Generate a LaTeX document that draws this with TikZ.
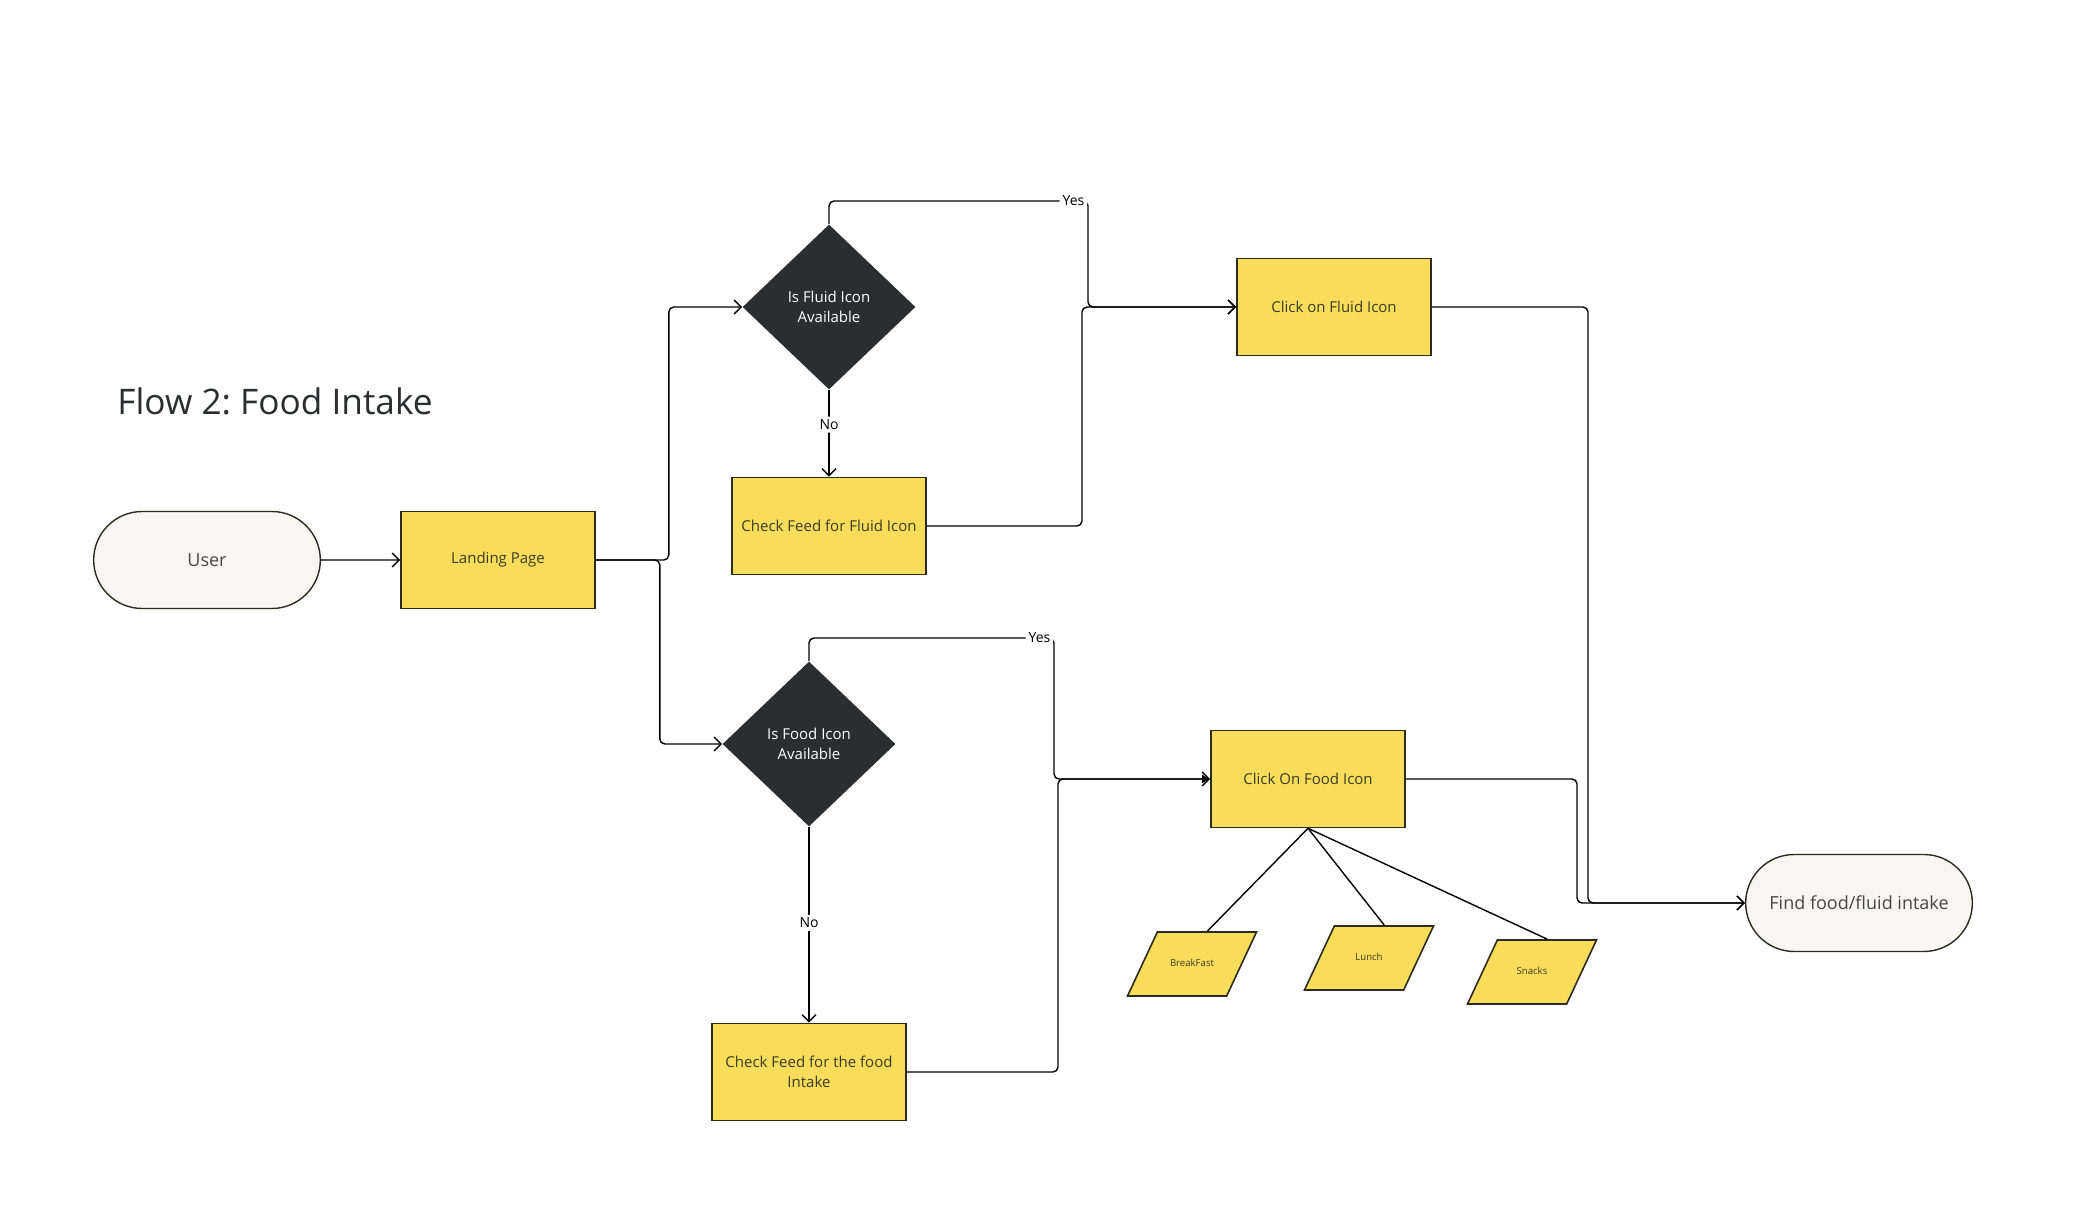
\documentclass[tikz,border=0pt]{standalone}
\usepackage{fontspec}
\setmainfont{Open Sans}
\frenchspacing
\usetikzlibrary{arrows.meta,positioning,shapes.geometric,shapes.misc}
\definecolor{fdyellow}{RGB}{247,221,90}
\definecolor{fdedge}{RGB}{45,43,30}
\definecolor{fddark}{RGB}{43,45,49}
\definecolor{fdcream}{RGB}{248,246,240}
\definecolor{fdtext}{RGB}{60,58,35}
\definecolor{fdgrey}{RGB}{70,70,70}
\tikzset{
  fdbox/.style={draw=fdedge, fill=fdyellow, line width=0.8pt, align=center,
    minimum width=97pt, minimum height=48.5pt, inner sep=2pt, text=fdtext,
    font=\fontsize{7.5}{10}\selectfont},
  fddec/.style={diamond, fill=fddark, text=white, align=center,
    minimum width=86.5pt, minimum height=82.5pt, inner sep=0pt,
    font=\fontsize{7.5}{10}\selectfont},
  fdterm/.style={rounded rectangle, draw=fdedge, fill=fdcream, line width=0.7pt,
    minimum width=120pt, minimum height=48.5pt, text=fdgrey,
    font=\fontsize{9}{11}\selectfont},
  fdpar/.style={trapezium, trapezium left angle=65, trapezium right angle=115,
    trapezium stretches body, draw=fdedge, fill=fdyellow, line width=0.8pt,
    minimum width=64.5pt, text height=3.5pt, text depth=1pt,
    inner xsep=0pt, inner ysep=13.75pt, text=fdtext,
    font=\fontsize{4.8}{5}\selectfont},
  fdarr/.style={-{Straight Barb[length=3.5pt,width=7pt]}, line width=0.7pt,
    rounded corners=2.5pt},
  fdline/.style={line width=0.7pt},
  fdlbl/.style={fill=white, inner sep=1.5pt, font=\fontsize{7}{8}\selectfont}
}
\begin{document}
\begin{tikzpicture}[x=0.5pt, y=-0.5pt]
\useasboundingbox[fill=white] (0,0) rectangle (2084,1224);
\node[anchor=west, inner sep=0pt, text=fddark, font=\fontsize{17.6}{22}\selectfont] (title) at (117,401) {Flow 2: Food Intake};
% start
\node[fdterm] (user) at (207,560) {User};
\node[fdbox] (landing) at (498,560) {Landing Page};
% fluid branch
\node[fddec] (fluidq) at (829,307) {Is Fluid Icon\\Available};
\node[fdbox] (chkfluid) at (829,526) {Check Feed for Fluid Icon};
\node[fdbox] (clkfluid) at (1334,307) {Click on Fluid Icon};
% food branch
\node[fddec] (foodq) at (809,744) {Is Food Icon\\Available};
\node[fdbox] (chkfood) at (809,1072) {Check Feed for the food\\Intake};
\node[fdbox] (clkfood) at (1308,779) {Click On Food Icon};
\node[fdpar] (bfast) at (1192,964) {BreakFast};
\node[fdpar] (lunch) at (1369,958) {Lunch};
\node[fdpar] (snack) at (1532,972) {Snacks};
% end
\node[fdterm] (find) at (1859,903) {Find food/fluid intake};

\coordinate (fy) at (1088,201);
\coordinate (fj) at (1082,307);
\coordinate (dy) at (1054,638);
\coordinate (dj) at (1058,779);
\coordinate (rj1) at (1588,903);
\coordinate (rj2) at (1577,903);

\draw[fdarr] (user) -- (landing);
\draw[fdarr] (landing.east) -- ++(73,0) |- (fluidq.west);
\draw[fdarr] (landing.east) -- ++(64,0) |- (foodq.west);
\draw[fdarr] (fluidq.north) |- (fy) node[fdlbl, anchor=east] (yes1) {Yes} |- (clkfluid.west);
\draw[fdarr] (fluidq.south) -- node[fdlbl, pos=0.4] (no1) {No} (chkfluid.north);
\draw[fdarr] (chkfluid.east) -| (fj) -- (clkfluid.west);
\draw[fdarr] (foodq.north) |- (dy) node[fdlbl, anchor=east] (yes2) {Yes} |- (clkfood.west);
\draw[fdarr] (foodq.south) -- node[fdlbl, pos=0.49] (no2) {No} (chkfood.north);
\draw[fdarr, -{Latex[length=4pt,width=4.5pt]}] (chkfood.east) -| (dj) -- (clkfood.west);
\draw[fdarr] (clkfluid.east) -| (rj1) -- (find.west);
\draw[fdarr] (clkfood.east) -| (rj2) -- (find.west);
\draw[fdline] (clkfood.south) -- (bfast.top side);
\draw[fdline] (clkfood.south) -- (lunch.top side);
\draw[fdline] (clkfood.south) -- (snack.top side);
\end{tikzpicture}
\end{document}
